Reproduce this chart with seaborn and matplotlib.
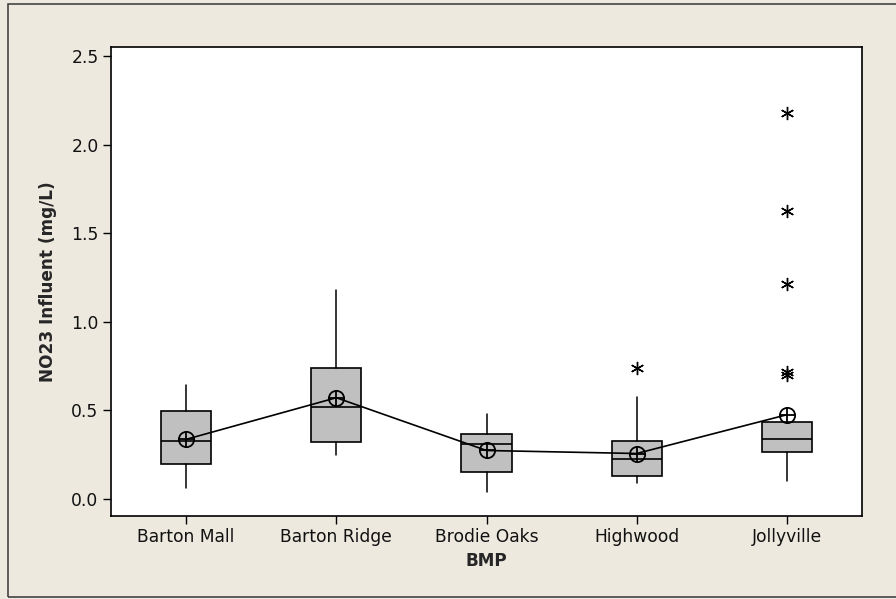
import pandas as pd
import matplotlib.pyplot as plt
import seaborn as sns
from matplotlib.patches import Rectangle

# values (mg/L)
bmp = ["Barton Mall", "Barton Ridge", "Brodie Oaks", "Highwood", "Jollyville"]
whisker_low = [0.06, 0.25, 0.04, 0.09, 0.10]
q1 = [0.20, 0.32, 0.155, 0.13, 0.265]
medians = [0.33, 0.52, 0.31, 0.225, 0.34]
q3 = [0.495, 0.74, 0.365, 0.33, 0.435]
whisker_high = [0.645, 1.18, 0.48, 0.575, 0.435]
means = [0.337, 0.572, 0.274, 0.257, 0.476]
outliers = [[], [], [], [0.74], [2.18, 1.625, 1.215, 0.715, 0.70]]
yticks = [0.0, 0.5, 1.0, 1.5, 2.0, 2.5]

bg = "#EDE9DF"
sns.set_theme(style="white")
plt.rcParams["font.family"] = ["DejaVu Sans"]

fig = plt.figure(figsize=(8.96, 5.99), dpi=100, facecolor=bg)
ax = fig.add_axes([111 / 896, 83 / 599, 751 / 896, 469 / 599])
ax.set_facecolor("white")

# outer frame like the Minitab graph window
fig.patches.append(Rectangle((8 / 896, 2 / 599), 1.0, 593 / 599, transform=fig.transFigure,
                             fill=False, edgecolor="#444444", linewidth=1.2, zorder=0))

stats = []
for i, name in enumerate(bmp):
    stats.append(dict(label=name, whislo=whisker_low[i], q1=q1[i], med=medians[i],
                      q3=q3[i], whishi=whisker_high[i], fliers=outliers[i]))
positions = list(range(len(bmp)))

ax.bxp(stats, positions=positions, widths=0.333, showcaps=False, patch_artist=True,
       boxprops=dict(facecolor="#C0C0C0", edgecolor="black", linewidth=1.2),
       medianprops=dict(color="black", linewidth=1.2),
       whiskerprops=dict(color="black", linewidth=1.1),
       flierprops=dict(marker=(6, 2, 0), markersize=9.5, markeredgecolor="black",
                       markeredgewidth=1.0, linestyle="none"))

# connect the means, Minitab style circled-plus symbol
mean_df = pd.DataFrame({"pos": positions, "mean": means})
sns.lineplot(data=mean_df, x="pos", y="mean", ax=ax, color="black", linewidth=1.2,
             marker="o", markersize=11, markerfacecolor="none", markeredgecolor="black",
             markeredgewidth=1.3, zorder=4)
ax.plot(mean_df["pos"], mean_df["mean"], linestyle="none", marker="+", markersize=11,
        markeredgewidth=1.3, color="black", zorder=5)

ax.set_xlim(-0.5, 4.5)
ax.set_ylim(-0.096, 2.553)
ax.set_xticks(positions)
ax.set_xticklabels(bmp, fontsize=12.3, color="#111111")
ax.set_yticks(yticks)
ax.set_yticklabels([f"{v:.1f}" for v in yticks], fontsize=12.3, color="#111111")
ax.tick_params(axis="both", which="both", direction="out", length=6, width=1.0,
               color="black", pad=3, bottom=True, left=True)
for side in ["left", "bottom", "right", "top"]:
    ax.spines[side].set_color("black")
    ax.spines[side].set_linewidth(1.2)

ax.set_xlabel("BMP", fontsize=12.2, fontweight="bold", labelpad=4)
ax.set_ylabel("NO23 Influent (mg/L)", fontsize=12.2, fontweight="bold", labelpad=10)

fig.savefig("out.png", dpi=100, facecolor=bg)
